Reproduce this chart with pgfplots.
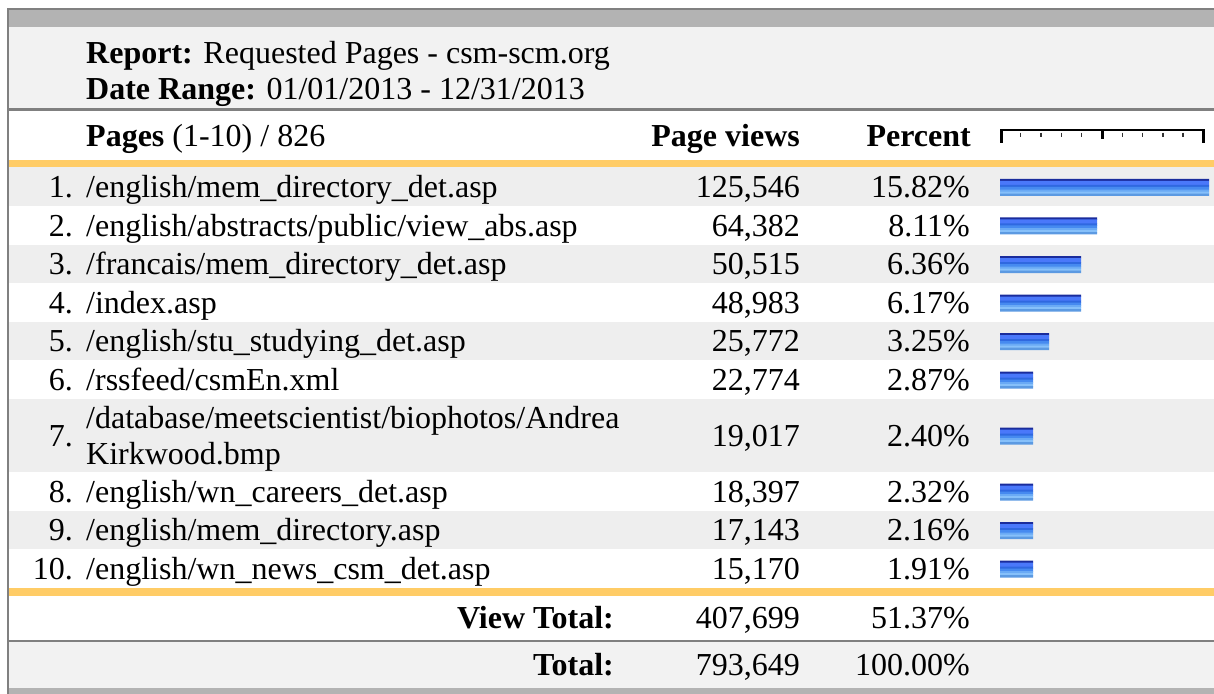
\documentclass[border=0pt]{standalone}
\usepackage{pgfplots}
\pgfplotsset{compat=1.18}
\usepackage{pgfplotstable}
\usepackage{fontspec}
\setmainfont{Liberation Serif}
\definecolor{band}{HTML}{B3B3B3}
\definecolor{brd}{HTML}{808080}
\definecolor{hdr}{HTML}{F2F2F2}
\definecolor{rowg}{HTML}{EEEEEE}
\definecolor{org}{HTML}{FFCC66}
\definecolor{s1}{HTML}{1A2C9C}
\definecolor{s2}{HTML}{4A78FA}
\definecolor{s3}{HTML}{2F68E0}
\definecolor{s4}{HTML}{468AF0}
\definecolor{s5}{HTML}{6AAAF5}
\definecolor{s6}{HTML}{86C0FA}
\definecolor{s7}{HTML}{5C9AE2}
\pgfplotstableread{
c len
186.75 209
225.25 97
263.75 81
302.25 81
340.75 49
379.25 33
435.25 33
491.25 33
529.75 33
568.25 33
}\bartable
\newcommand{\fs}{\fontsize{32bp}{36.8bp}\selectfont}
\protected\def\us{\char95\relax}
\begin{document}
\begin{tikzpicture}
\begin{axis}[at={(0,0)}, anchor=south west, width=1214bp, height=694bp,
  scale only axis, xmin=0, xmax=1214, ymin=0, ymax=694, y dir=reverse,
  axis lines=none, ticks=none, clip=false]
% backgrounds
\fill[brd] (6.7,8.3) rectangle (1214,10);
\fill[brd] (6.7,8.3) rectangle (9,694);
\fill[band] (9,10) rectangle (1214,27.3);
\fill[hdr] (9,27.3) rectangle (1214,108.3);
\fill[brd] (9,108.3) rectangle (1214,111);
\fill[org] (9,160) rectangle (1214,167.5);
\fill[rowg] (9,167.5) rectangle (1214,206);
\fill[rowg] (9,244.5) rectangle (1214,283);
\fill[rowg] (9,321.5) rectangle (1214,360);
\fill[rowg] (9,398.5) rectangle (1214,472);
\fill[rowg] (9,510.5) rectangle (1214,549);
\fill[org] (9,587.5) rectangle (1214,595.5);
\fill[brd] (9,640) rectangle (1214,641.8);
\fill[hdr] (9,641.8) rectangle (1214,687.7);
\fill[band] (9,687.7) rectangle (1214,694);
% ruler
\draw[line width=2bp] (1000,130.2) -- (1204.5,130.2);
\draw[line width=2.5bp] (1001.3,129.2) -- (1001.3,143.3);
\draw[line width=2.5bp] (1203.3,129.2) -- (1203.3,143.3);
\draw[line width=3bp] (1102.3,129.2) -- (1102.3,139.3);
\draw[line width=1.4bp, black!80] (1020.7,132.7) -- (1020.7,137.3);
\draw[line width=1.4bp, black!80] (1041,132.7) -- (1041,137.3);
\draw[line width=1.4bp, black!80] (1061.2,132.7) -- (1061.2,137.3);
\draw[line width=1.4bp, black!80] (1081.4,132.7) -- (1081.4,137.3);
\draw[line width=1.4bp, black!80] (1122.4,132.7) -- (1122.4,137.3);
\draw[line width=1.4bp, black!80] (1142.6,132.7) -- (1142.6,137.3);
\draw[line width=1.4bp, black!80] (1162.8,132.7) -- (1162.8,137.3);
\draw[line width=1.4bp, black!80] (1183,132.7) -- (1183,137.3);
% header text
\node[inner sep=0pt, font=\fs, anchor=base west] at (86,63.5) {\textbf{Report:} Requested Pages - csm-scm.org};
\node[inner sep=0pt, font=\fs, anchor=base west] at (86,100) {\textbf{Date Range:} 01/01/2013 - 12/31/2013};
\node[inner sep=0pt, font=\fs, anchor=base west] at (86,147) {\textbf{Pages} (1-10) / 826};
\node[inner sep=0pt, font=\fs, anchor=base east] at (800,147) {\textbf{Page views}};
\node[inner sep=0pt, font=\fs, anchor=base east] at (971,147) {\textbf{Percent}};
% rows
\node[inner sep=0pt, font=\fs, anchor=base east] at (73,197.5) {1.};
\node[inner sep=0pt, font=\fs, anchor=base west] at (86,197.5) {/english/mem\us directory\us det.asp};
\node[inner sep=0pt, font=\fs, anchor=base east] at (800,197.5) {125,546};
\node[inner sep=0pt, font=\fs, anchor=base east] at (970,197.5) {15.82\%};
\node[inner sep=0pt, font=\fs, anchor=base east] at (73,236) {2.};
\node[inner sep=0pt, font=\fs, anchor=base west] at (86,236) {/english/abstracts/public/view\us abs.asp};
\node[inner sep=0pt, font=\fs, anchor=base east] at (800,236) {64,382};
\node[inner sep=0pt, font=\fs, anchor=base east] at (970,236) {8.11\%};
\node[inner sep=0pt, font=\fs, anchor=base east] at (73,274.5) {3.};
\node[inner sep=0pt, font=\fs, anchor=base west] at (86,274.5) {/francais/mem\us directory\us det.asp};
\node[inner sep=0pt, font=\fs, anchor=base east] at (800,274.5) {50,515};
\node[inner sep=0pt, font=\fs, anchor=base east] at (970,274.5) {6.36\%};
\node[inner sep=0pt, font=\fs, anchor=base east] at (73,313) {4.};
\node[inner sep=0pt, font=\fs, anchor=base west] at (86,313) {/index.asp};
\node[inner sep=0pt, font=\fs, anchor=base east] at (800,313) {48,983};
\node[inner sep=0pt, font=\fs, anchor=base east] at (970,313) {6.17\%};
\node[inner sep=0pt, font=\fs, anchor=base east] at (73,351.5) {5.};
\node[inner sep=0pt, font=\fs, anchor=base west] at (86,351.5) {/english/stu\us studying\us det.asp};
\node[inner sep=0pt, font=\fs, anchor=base east] at (800,351.5) {25,772};
\node[inner sep=0pt, font=\fs, anchor=base east] at (970,351.5) {3.25\%};
\node[inner sep=0pt, font=\fs, anchor=base east] at (73,390) {6.};
\node[inner sep=0pt, font=\fs, anchor=base west] at (86,390) {/rssfeed/csmEn.xml};
\node[inner sep=0pt, font=\fs, anchor=base east] at (800,390) {22,774};
\node[inner sep=0pt, font=\fs, anchor=base east] at (970,390) {2.87\%};
\node[inner sep=0pt, font=\fs, anchor=base east] at (73,446) {7.};
\node[inner sep=0pt, font=\fs, anchor=base west] at (86,428) {/database/meetscientist/biophotos/Andrea};
\node[inner sep=0pt, font=\fs, anchor=base west] at (86,464.8) {Kirkwood.bmp};
\node[inner sep=0pt, font=\fs, anchor=base east] at (800,446) {19,017};
\node[inner sep=0pt, font=\fs, anchor=base east] at (970,446) {2.40\%};
\node[inner sep=0pt, font=\fs, anchor=base east] at (73,502) {8.};
\node[inner sep=0pt, font=\fs, anchor=base west] at (86,502) {/english/wn\us careers\us det.asp};
\node[inner sep=0pt, font=\fs, anchor=base east] at (800,502) {18,397};
\node[inner sep=0pt, font=\fs, anchor=base east] at (970,502) {2.32\%};
\node[inner sep=0pt, font=\fs, anchor=base east] at (73,540.5) {9.};
\node[inner sep=0pt, font=\fs, anchor=base west] at (86,540.5) {/english/mem\us directory.asp};
\node[inner sep=0pt, font=\fs, anchor=base east] at (800,540.5) {17,143};
\node[inner sep=0pt, font=\fs, anchor=base east] at (970,540.5) {2.16\%};
\node[inner sep=0pt, font=\fs, anchor=base east] at (73,579) {10.};
\node[inner sep=0pt, font=\fs, anchor=base west] at (86,579) {/english/wn\us news\us csm\us det.asp};
\node[inner sep=0pt, font=\fs, anchor=base east] at (800,579) {15,170};
\node[inner sep=0pt, font=\fs, anchor=base east] at (970,579) {1.91\%};
% totals
\node[inner sep=0pt, font=\fs, anchor=base east] at (614,628.5) {\textbf{View Total:}};
\node[inner sep=0pt, font=\fs, anchor=base east] at (800,628.5) {407,699};
\node[inner sep=0pt, font=\fs, anchor=base east] at (970,628.5) {51.37\%};
\node[inner sep=0pt, font=\fs, anchor=base east] at (614,675) {\textbf{Total:}};
\node[inner sep=0pt, font=\fs, anchor=base east] at (800,675) {793,649};
\node[inner sep=0pt, font=\fs, anchor=base east] at (970,675) {100.00\%};
\end{axis}
\begin{axis}[at={(1000bp,0)}, anchor=south west, width=214bp, height=694bp,
  scale only axis, xmin=0, xmax=214, ymin=0, ymax=694, y dir=reverse,
  axis lines=none, ticks=none, clip=false]
\addplot[xbar, bar shift=0pt, bar width=2.4, draw=none, fill=s1] table[x=len, y expr=\thisrow{c}-6.55] {\bartable};
\addplot[xbar, bar shift=0pt, bar width=4.4, draw=none, fill=s2] table[x=len, y expr=\thisrow{c}-3.55] {\bartable};
\addplot[xbar, bar shift=0pt, bar width=2.4, draw=none, fill=s3] table[x=len, y expr=\thisrow{c}-0.55] {\bartable};
\addplot[xbar, bar shift=0pt, bar width=3.1, draw=none, fill=s4] table[x=len, y expr=\thisrow{c}+1.8] {\bartable};
\addplot[xbar, bar shift=0pt, bar width=2.4, draw=none, fill=s5] table[x=len, y expr=\thisrow{c}+4.15] {\bartable};
\addplot[xbar, bar shift=0pt, bar width=2.4, draw=none, fill=s6] table[x=len, y expr=\thisrow{c}+6.15] {\bartable};
\addplot[xbar, bar shift=0pt, bar width=2.3, draw=none, fill=s7] table[x=len, y expr=\thisrow{c}+8.1] {\bartable};
\end{axis}
\pgfresetboundingbox
\path (0,0) rectangle (1214bp,694bp);
\end{tikzpicture}
\end{document}
